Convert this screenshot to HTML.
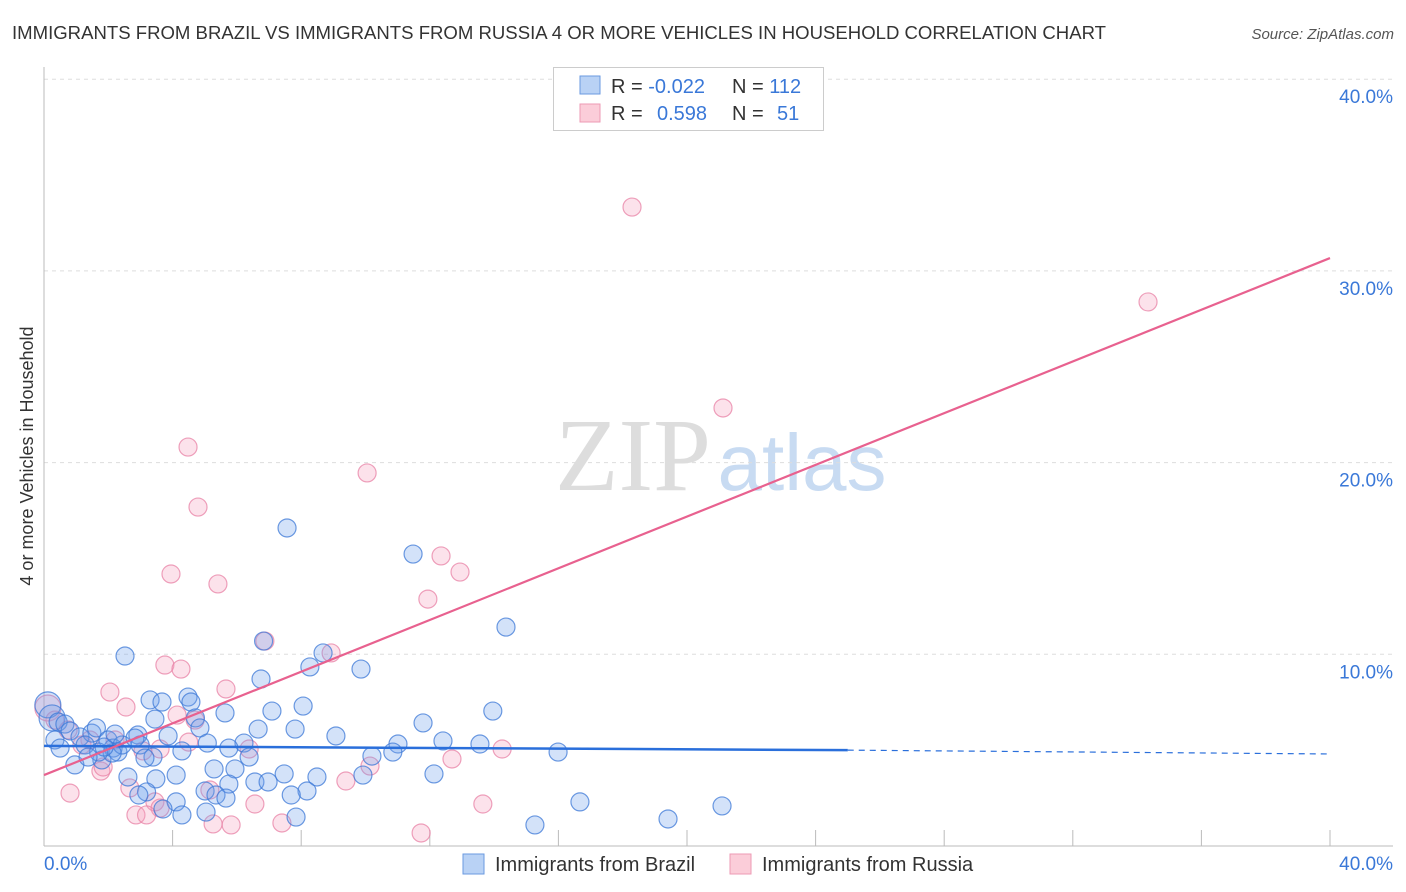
<!DOCTYPE html>
<html><head><meta charset="utf-8"><style>
body{margin:0;background:#fff;font-family:"Liberation Sans",sans-serif;}
#c{position:relative;width:1406px;height:892px;overflow:hidden}
</style></head><body>
<div id="c">
<svg id="svg" width="1406" height="892" xmlns="http://www.w3.org/2000/svg">
<text x="12" y="39" font-size="18" fill="#333" textLength="1094" lengthAdjust="spacingAndGlyphs">IMMIGRANTS FROM BRAZIL VS IMMIGRANTS FROM RUSSIA 4 OR MORE VEHICLES IN HOUSEHOLD CORRELATION CHART</text>
<text x="1394" y="39" font-size="15" fill="#555" font-style="italic" text-anchor="end">Source: ZipAtlas.com</text>
<text transform="translate(33,456) rotate(-90)" font-size="18" fill="#333" text-anchor="middle">4 or more Vehicles in Household</text>
<g>
<text x="633" y="490" font-size="104" fill="#ddd" font-family="Liberation Serif,serif" text-anchor="middle">ZIP</text>
<text x="802" y="490" font-size="80" fill="#c8dbf2" text-anchor="middle">atlas</text>
</g>
<g id="grid"></g><g id="axes"></g><g id="pts"></g><g id="trend"></g>
<g>
<rect x="553.5" y="67.5" width="270" height="63" fill="#fff" stroke="#ccc"/>
<rect x="580" y="76" width="20" height="18" fill="#b9d2f5" stroke="#6a9ae0"/>
<rect x="580" y="104" width="20" height="18" fill="#fbcdd9" stroke="#ec9ab4"/>
<text x="611" y="93" font-size="20" fill="#333">R = <tspan fill="#3a78d8">-0.022</tspan><tspan x="732">N = </tspan><tspan fill="#3a78d8">112</tspan></text>
<text x="611" y="120" font-size="20" fill="#333">R = <tspan x="657" fill="#3a78d8">0.598</tspan><tspan x="732">N = </tspan><tspan x="777" fill="#3a78d8">51</tspan></text>
</g>
<g>
<rect x="463" y="854" width="21" height="20" fill="#b9d2f5" stroke="#6a9ae0"/>
<text x="495" y="871" font-size="20" fill="#333">Immigrants from Brazil</text>
<rect x="730" y="854" width="21" height="20" fill="#fbcdd9" stroke="#ec9ab4"/>
<text x="762" y="871" font-size="20" fill="#333">Immigrants from Russia</text>
</g>
</svg>
</div>
<script>
const yTicks=[10,20,30,40];
const xTickLabels=["0.0%","40.0%"];
const brazilX=[2.52,6.83,7.56,11.48,14.37,8.68,9.86,8.27,6.75,4.48,3.30,3.67,4.57,8.06,13.96,7.09,5.63,3.45,4.71,11.79,7.81,6.66,4.85,9.08,3.86,2.92,12.41,13.56,11.01,5.08,6.22,5.75,10.2,15.99,10.85,4.29,3.39,6.38,12.13,9.92,8.49,7.47,5.94,5.29,4.11,3.48,2.61,6.56,5.75,6.97,8.18,7.69,5.01,3.19,2.95,5.35,5.66,16.67,21.09,4.11,3.70,4.29,7.84,19.41,15.27,5.04,0.12,0.25,0.34,0.44,0.65,0.81,0.96,1.12,1.49,1.28,1.63,1.80,1.99,2.15,2.30,2.43,2.12,2.99,2.83,3.14,1.70,1.37,1.87,2.21,0.5];
const brazilY=[9.91,10.69,16.59,15.23,11.42,10.07,9.23,9.34,8.71,7.77,7.62,7.51,7.51,7.30,7.04,7.04,6.94,6.62,6.68,6.42,6.10,6.10,6.16,5.74,5.74,5.79,5.48,5.32,5.32,5.37,5.37,5.11,4.69,4.90,4.90,4.96,4.64,4.64,3.76,3.70,3.60,3.76,4.02,4.02,3.70,3.50,3.60,3.34,3.23,3.34,2.87,2.66,2.87,2.82,2.66,2.66,2.50,2.30,2.09,2.30,1.93,1.62,1.51,1.41,1.10,1.77,7.36,6.68,5.53,6.47,6.36,6.0,4.23,5.69,5.89,5.27,6.16,4.49,5.53,5.11,4.90,5.27,4.85,5.27,5.63,4.59,4.90,4.64,5.16,5.84,5.11];
const russiaX=[18.29,34.34,21.12,4.48,10.05,4.79,12.35,12.94,3.95,5.41,11.94,6.87,8.93,3.76,4.26,2.05,5.66,2.55,4.14,14.25,12.69,6.38,10.14,9.39,3.08,1.77,2.67,0.81,3.45,3.61,6.56,7.40,5.26,5.82,2.86,3.19,13.65,11.73,5.16,0.12,0.34,0.75,1.43,2.21,1.18,3.61,1.84,4.7,4.5];
const russiaY=[33.33,28.38,22.85,20.81,19.46,17.68,15.13,14.29,14.19,13.67,12.88,10.69,10.07,9.44,9.23,8.03,8.19,7.25,6.83,5.06,4.54,5.06,4.17,3.39,4.96,3.91,3.03,2.76,2.30,1.98,2.19,1.20,1.15,1.10,1.62,1.62,2.19,0.68,2.92,7.2,6.57,6.05,5.53,5.53,5.27,5.06,4.12,6.57,5.42];
const brazilTrend=[5.22,5.0,4.8]; // at x=0, 25, 40
const russiaTrend=[3.7,30.67]; // at x=0, 40
const X=v=>44+v*32.15, Y=v=>846-v*19.17;
const NS="http://www.w3.org/2000/svg";
function mk(t,a,p){const e=document.createElementNS(NS,t);for(const k in a)e.setAttribute(k,a[k]);p.appendChild(e);return e;}
const grid=document.getElementById('grid'),axes=document.getElementById('axes'),pts=document.getElementById('pts'),tr=document.getElementById('trend');
yTicks.forEach(v=>{
 const l=mk('line',{x1:44,x2:1393,y1:Y(v),y2:Y(v),stroke:'#ddd','stroke-dasharray':'4,4'},grid);
 
 
 const t=mk('text',{x:1393,y:Y(v)+24,'font-size':19,fill:'#3a78d8','text-anchor':'end'},grid);
 t.textContent=v.toFixed(1)+'%';
 
 
});
mk('line',{x1:44,x2:44,y1:67,y2:846,stroke:'#bbb'},axes);
mk('line',{x1:44,x2:1393,y1:846,y2:846,stroke:'#bbb'},axes);
for(let i=0;i<=40;i+=4){mk('line',{x1:X(i),x2:X(i),y1:830,y2:846,stroke:'#bbb'},axes);}
const xl0=mk('text',{x:44,y:870,'font-size':19,fill:'#3a78d8'},axes);xl0.textContent=xTickLabels[0];


const xl1=mk('text',{x:1393,y:870,'font-size':19,fill:'#3a78d8','text-anchor':'end'},axes);xl1.textContent=xTickLabels[1];


function plot(xs,ys,fill,stroke,name){xs.forEach((x,i)=>{
 const c=mk('circle',{cx:X(x),cy:Y(ys[i]),r:(x<0.3?13:9),fill:fill,stroke:stroke,'stroke-width':1.2},pts);
 
 
});}
plot(russiaX,russiaY,'rgba(244,160,188,0.3)','rgba(232,130,165,0.75)','russia-point');
plot(brazilX,brazilY,'rgba(110,160,235,0.3)','rgba(60,120,215,0.75)','brazil-point');
const b1=mk('line',{x1:X(0),y1:Y(brazilTrend[0]),x2:X(25),y2:Y(brazilTrend[1]),stroke:'#2a6fdb','stroke-width':2.5},tr);


const b2=mk('line',{x1:X(25),y1:Y(brazilTrend[1]),x2:X(40),y2:Y(brazilTrend[2]),stroke:'#2a6fdb','stroke-width':1.2,'stroke-dasharray':'6,5'},tr);


const r1=mk('line',{x1:X(0),y1:Y(russiaTrend[0]),x2:X(40),y2:Y(russiaTrend[1]),stroke:'#e8618f','stroke-width':2.2},tr);


</script>
</body></html>
